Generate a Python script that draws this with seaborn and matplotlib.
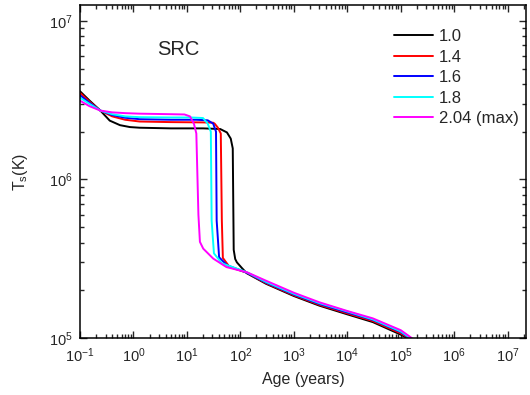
import matplotlib
matplotlib.use("Agg")
import matplotlib.pyplot as plt
import seaborn as sns
import pandas as pd
from matplotlib.ticker import LogLocator, NullFormatter

# ---------- data ----------
labels = ["1.0", "1.4", "1.6", "1.8", "2.04 (max)"]
colors = ["#000000", "#ff0000", "#0000ff", "#00ffff", "#ff00ff"]

age_10 = [0.1, 0.15, 0.24, 0.36, 0.56, 0.86, 1.3, 5, 20, 42, 56, 66, 72, 75, 80, 86, 107, 132,
          300, 1000, 3000, 1e4, 3e4, 1e5, 1.3e5, 2e5]
ts_10 = [3.6e6, 3.15e6, 2.72e6, 2.35e6, 2.2e6, 2.14e6, 2.12e6, 2.1e6, 2.1e6, 2.08e6, 1.98e6, 1.81e6,
         1.57e6, 3.6e5, 3.15e5, 3.0e5, 2.76e5, 2.56e5, 2.2e5, 1.84e5, 1.6e5, 1.41e5, 1.26e5, 1.05e5,
         1.0e5, 8.5e4]

age_14 = [0.1, 0.15, 0.24, 0.4, 0.7, 1.3, 5, 20, 31, 33, 38, 43, 45, 47, 63, 132,
          300, 1000, 3000, 1e4, 3e4, 1e5, 1.4e5, 2.2e5]
ts_14 = [3.52e6, 3.1e6, 2.72e6, 2.5e6, 2.38e6, 2.32e6, 2.3e6, 2.29e6, 2.28e6, 2.25e6, 2.12e6, 1.95e6,
         5.5e5, 3.2e5, 2.8e5, 2.58e5, 2.22e5, 1.86e5, 1.62e5, 1.43e5, 1.28e5, 1.07e5, 1.0e5, 8.5e4]

age_16 = [0.1, 0.15, 0.24, 0.4, 0.7, 1.3, 5, 15, 24.5, 31, 35, 36, 40, 56, 132,
          300, 1000, 3000, 1e4, 3e4, 1e5, 1.45e5, 2.3e5]
ts_16 = [3.4e6, 3.05e6, 2.72e6, 2.55e6, 2.45e6, 2.4e6, 2.38e6, 2.38e6, 2.36e6, 2.25e6, 2.0e6,
         5.5e5, 3.23e5, 2.88e5, 2.58e5, 2.24e5, 1.88e5, 1.64e5, 1.45e5, 1.3e5, 1.09e5, 1.0e5, 8.5e4]

age_18 = [0.1, 0.15, 0.24, 0.4, 0.7, 1.3, 5, 12, 20, 24.5, 28, 29, 32, 45, 132,
          300, 1000, 3000, 1e4, 3e4, 1e5, 1.5e5, 2.4e5]
ts_18 = [3.28e6, 3.0e6, 2.72e6, 2.58e6, 2.5e6, 2.47e6, 2.46e6, 2.46e6, 2.44e6, 2.25e6, 2.0e6,
         5.5e5, 3.42e5, 2.96e5, 2.6e5, 2.26e5, 1.9e5, 1.66e5, 1.47e5, 1.31e5, 1.1e5, 1.0e5, 8.5e4]

age_204 = [0.1, 0.15, 0.24, 0.4, 0.7, 1.3, 5, 9, 11.4, 13.5, 15, 16.4, 17.5, 20.2, 31, 55, 132,
           300, 1000, 3000, 1e4, 3e4, 1e5, 1.6e5, 2.5e5]
ts_204 = [3.14e6, 2.9e6, 2.72e6, 2.65e6, 2.62e6, 2.6e6, 2.58e6, 2.57e6, 2.5e6, 2.25e6, 1.95e6,
          6e5, 4.04e5, 3.66e5, 3.17e5, 2.8e5, 2.6e5, 2.3e5, 1.93e5, 1.68e5, 1.48e5, 1.33e5, 1.12e5,
          1.0e5, 8.5e4]

ages = [age_10, age_14, age_16, age_18, age_204]
temps = [ts_10, ts_14, ts_16, ts_18, ts_204]

frames = []
for lab, a, t in zip(labels, ages, temps):
    frames.append(pd.DataFrame({"age": a, "ts": t, "mass": lab}))
df = pd.concat(frames, ignore_index=True)

# ---------- style ----------
sns.set_style("ticks")
plt.rcParams['font.family'] = ['Liberation Sans', 'DejaVu Sans']
plt.rcParams['mathtext.default'] = 'regular'
plt.rcParams['xtick.direction'] = 'in'
plt.rcParams['ytick.direction'] = 'in'

fig = plt.figure(figsize=(5.3, 3.95), dpi=100)
ax = fig.add_axes([80 / 530, (395 - 338) / 395, 446 / 530, 333 / 395])

sns.lineplot(data=df, x="age", y="ts", hue="mass", palette=colors, hue_order=labels,
             estimator=None, sort=False, linewidth=1.4, ax=ax)

ax.set_xscale("log")
ax.set_yscale("log")
ax.set_xlim(0.1, 2.2e7)
ax.set_ylim(1e5, 1.26e7)

ax.xaxis.set_major_locator(LogLocator(base=10, numticks=20))
ax.xaxis.set_minor_locator(LogLocator(base=10, subs=range(2, 10), numticks=100))
ax.xaxis.set_minor_formatter(NullFormatter())
ax.yaxis.set_minor_locator(LogLocator(base=10, subs=range(2, 10), numticks=100))
ax.yaxis.set_minor_formatter(NullFormatter())

ax.tick_params(which="both", top=True, right=True, labelsize=10.5, width=1)
ax.tick_params(which="major", length=5)
ax.tick_params(which="minor", length=3)
ax.tick_params(axis="x", which="major", pad=6)
ax.tick_params(axis="y", which="major", pad=5)
for s in ax.spines.values():
    s.set_linewidth(1.1)
    s.set_color("black")

ax.set_xlabel("Age (years)", fontsize=11.5, labelpad=5)
ax.set_ylabel("T$_s$(K)", fontsize=11.5, labelpad=14)

ax.text(0.22, 0.865, "SRC", transform=ax.transAxes, fontsize=14.5, ha="center", va="center")

ax.legend(loc="upper left", bbox_to_anchor=(0.678, 0.962), frameon=False, fontsize=12,
          handlelength=2.33, handletextpad=0.37, labelspacing=0.33, borderaxespad=0.3, title=None)

fig.savefig("out.png", dpi=100)
